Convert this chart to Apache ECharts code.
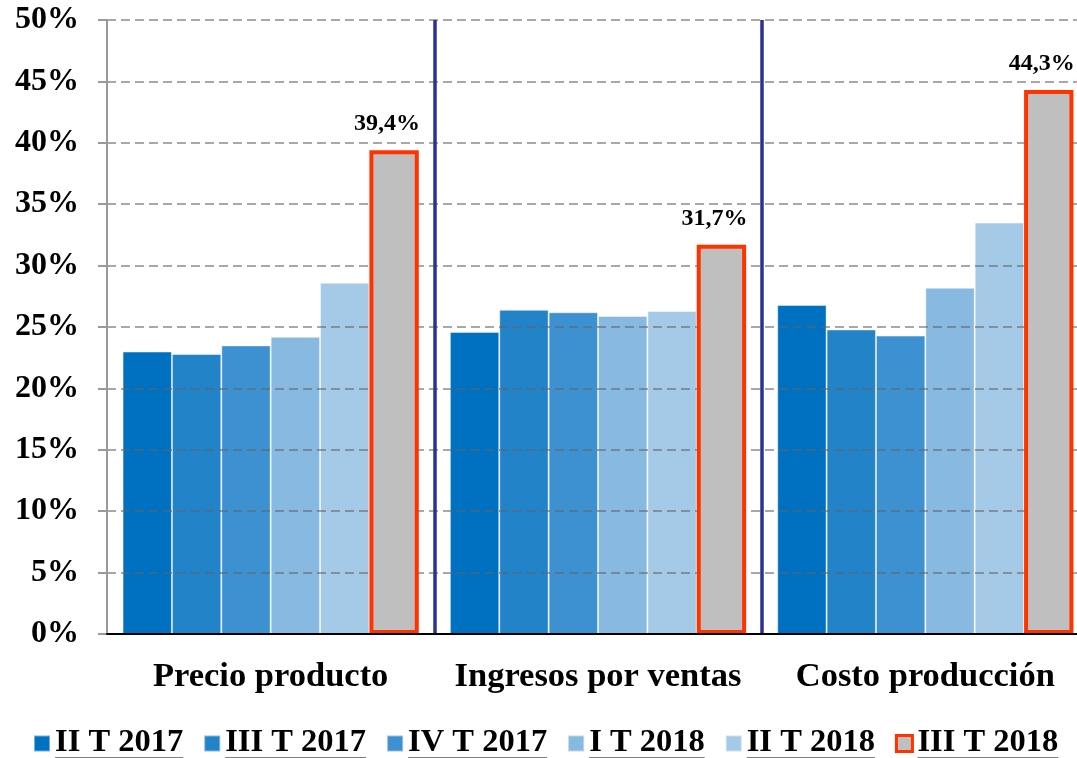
<!DOCTYPE html>
<html>
<head>
<meta charset="utf-8">
<script src="https://cdn.jsdelivr.net/npm/echarts@6/dist/echarts.min.js"></script>
<style>
  html, body { margin: 0; padding: 0; background: #fff; }
  #chart { width: 1077px; height: 758px; }
</style>
</head>
<body>
<div id="chart"></div>
<script>
// Quarterly shares by indicator
const categories = ['Precio producto', 'Ingresos por ventas', 'Costo producción'];
const seriesNames = ['II T 2017', 'III T 2017', 'IV T 2017', 'I T 2018', 'II T 2018', 'III T 2018'];
const iiT2017  = [23.0, 24.6, 26.8];
const iiiT2017 = [22.8, 26.4, 24.8];
const ivT2017  = [23.5, 26.2, 24.3];
const iT2018   = [24.2, 25.9, 28.2];
const iiT2018  = [28.6, 26.3, 33.5];
const iiiT2018 = [39.4, 31.7, 44.3];
const yTicks = [0, 5, 10, 15, 20, 25, 30, 35, 40, 45, 50];

const seriesValues = [iiT2017, iiiT2017, ivT2017, iT2018, iiT2018, iiiT2018];
const blues = ['#0070C0', '#2383C8', '#3D91D0', '#87B9E1', '#A5CAE8'];
const serif = '"Liberation Serif", "Times New Roman", serif';

const chart = echarts.init(document.getElementById('chart'));

const series = seriesValues.map((vals, i) => {
  const last = i === seriesValues.length - 1;
  const s = {
    name: seriesNames[i],
    type: 'bar',
    data: vals,
    barGap: '0%',
    barCategoryGap: '9.5%',
    z: last ? 4 : 2,
    itemStyle: last
      ? { color: '#BFBFBF', borderColor: '#FF3300', borderWidth: 4 }
      : { color: blues[i], borderColor: 'rgba(255,255,255,0.45)', borderWidth: 1 }
  };
  if (last) {
    s.label = {
      show: true,
      position: 'top',
      distance: 14,
      align: 'right',
      offset: [26, 0],
      fontFamily: serif,
      fontWeight: 'bold',
      fontSize: 24,
      color: '#000',
      formatter: p => p.value.toFixed(1).replace('.', ',') + '%'
    };
  }
  return s;
});

chart.setOption({
  animation: false,
  backgroundColor: '#fff',
  grid: { left: 107, top: 20, width: 982, bottom: 124, containLabel: false, outerBoundsMode: 'none' },
  legend: {
    top: 726,
    left: 33,
    padding: 0,
    itemWidth: 16,
    itemHeight: 16,
    itemGap: 20,
    icon: 'rect',
    data: seriesNames.map((n, i) => i === 5
      ? { name: n, itemStyle: { color: '#BFBFBF', borderColor: '#FF3300', borderWidth: 3 } }
      : { name: n }),
    formatter: n => '{t|' + n + '}\n{u|}',
    textStyle: {
      rich: {
        t: { fontFamily: serif, fontWeight: 'bold', fontSize: 32.5, color: '#000', lineHeight: 30 },
        u: { width: '100%', height: 2, lineHeight: 2, backgroundColor: '#000' }
      }
    }
  },
  xAxis: {
    type: 'category',
    data: categories,
    z: 5,
    axisLine: { lineStyle: { color: '#000', width: 2 } },
    axisTick: { show: false },
    axisLabel: {
      interval: 0,
      margin: 26,
      fontFamily: serif,
      fontWeight: 'bold',
      fontSize: 34.5,
      color: '#000'
    },
    splitLine: {
      show: true,
      interval: (idx) => idx === 1 || idx === 2,
      lineStyle: { color: '#2E3192', width: 3.5 }
    }
  },
  yAxis: {
    type: 'value',
    min: yTicks[0],
    max: yTicks[yTicks.length - 1],
    interval: yTicks[1] - yTicks[0],
    z: 3,
    axisLine: { show: true, lineStyle: { color: '#999', width: 2 } },
    axisTick: { show: true, length: 9, lineStyle: { color: '#999', width: 2 } },
    axisLabel: {
      margin: 28,
      fontFamily: serif,
      fontWeight: 'bold',
      fontSize: 32,
      color: '#000',
      formatter: v => v + '%'
    },
    splitLine: {
      show: true,
      lineStyle: { color: 'rgba(100,100,100,0.75)', width: 1.5, type: [9, 5] }
    }
  },
  series: series
});
</script>
</body>
</html>
